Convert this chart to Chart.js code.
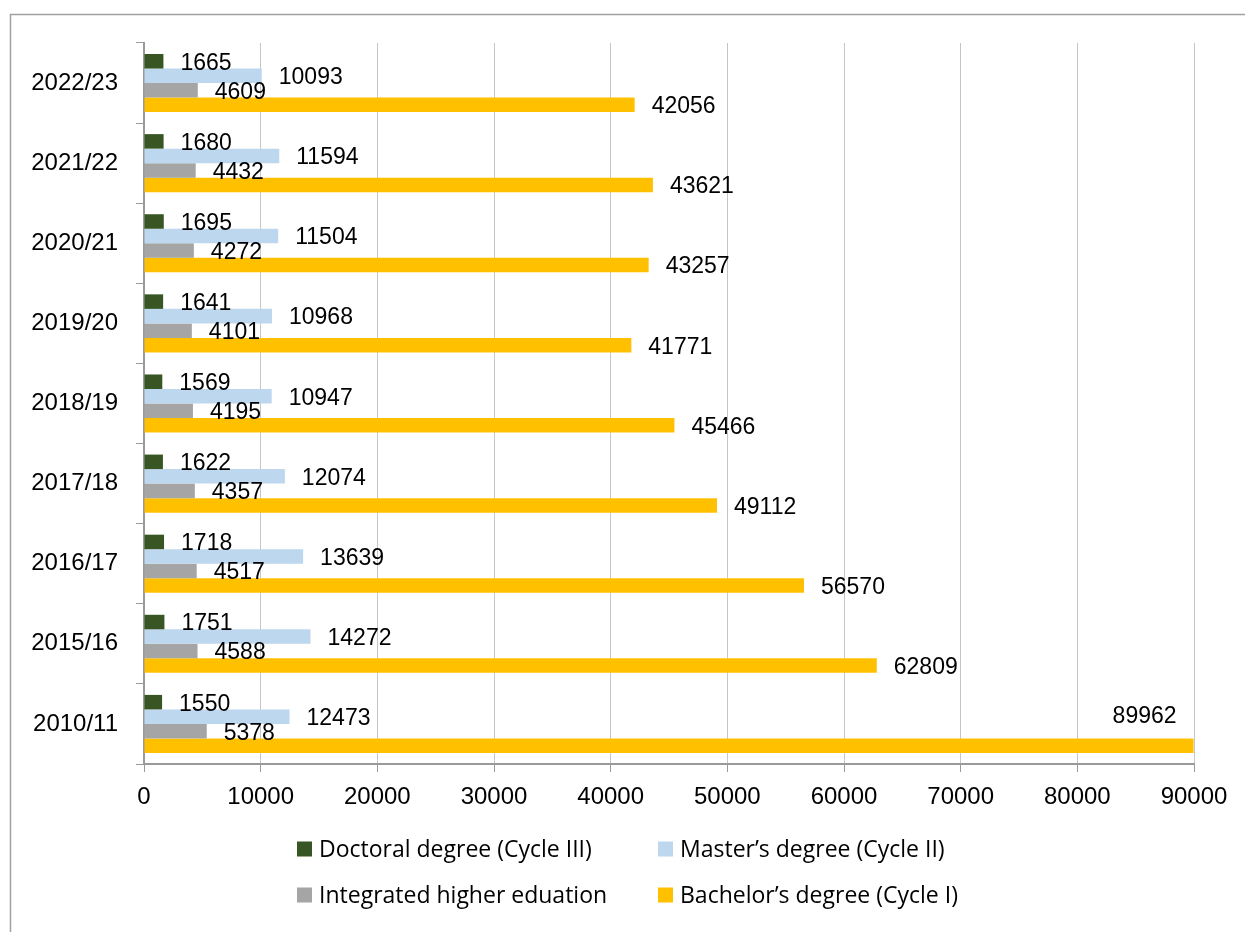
<!DOCTYPE html>
<html>
<head>
<meta charset="utf-8">
<script src="https://cdn.jsdelivr.net/npm/chart.js@4.4.1/dist/chart.umd.min.js"></script>
<style>
  html, body { margin: 0; padding: 0; background: #fff; overflow: hidden; }
  #wrap { position: relative; width: 1245px; height: 932px; }
</style>
</head>
<body>
<div id="wrap"><canvas id="chart"></canvas></div>
<script>
// ── Data (top row of the chart first) ─────────────────────────
const years = ['2022/23', '2021/22', '2020/21', '2019/20', '2018/19',
               '2017/18', '2016/17', '2015/16', '2010/11'];

const doctoral   = [1665, 1680, 1695, 1641, 1569, 1622, 1718, 1751, 1550];
const master     = [10093, 11594, 11504, 10968, 10947, 12074, 13639, 14272, 12473];
const integrated = [4609, 4432, 4272, 4101, 4195, 4357, 4517, 4588, 5378];
const bachelor   = [42056, 43621, 43257, 41771, 45466, 49112, 56570, 62809, 89962];

const seriesNames = [
  'Doctoral degree (Cycle III)',
  'Master\u2019s degree (Cycle II)',
  'Integrated higher eduation',
  'Bachelor\u2019s degree (Cycle I)',
];
const seriesColors = ['#375623', '#BDD7EE', '#A5A5A5', '#FFC000'];

const xTicks = [0, 10000, 20000, 30000, 40000, 50000, 60000, 70000, 80000, 90000];

const AXIS_FONT = "'Liberation Sans', Arial, sans-serif";
const LEGEND_FONT = "'Open Sans', 'Noto Sans', sans-serif";

// ── Plugins ───────────────────────────────────────────────────

// outer frame of the chart object (only top and left edges are visible)
const framePlugin = {
  id: 'frame',
  beforeDraw(chart) {
    const c = chart.ctx;
    c.save();
    c.strokeStyle = '#a0a0a0';
    c.lineWidth = 1.5;
    c.beginPath();
    c.moveTo(10.5, chart.height + 5);
    c.lineTo(10.5, 14.5);
    c.lineTo(chart.width + 5, 14.5);
    c.stroke();
    c.restore();
  },
};

// value labels at the end of each bar
const valueLabels = {
  id: 'valueLabels',
  afterDatasetsDraw(chart) {
    const c = chart.ctx;
    const right = chart.chartArea.right;
    c.save();
    c.font = `23px ${AXIS_FONT}`;
    c.fillStyle = '#000';
    c.textBaseline = 'middle';
    chart.data.datasets.forEach((ds, di) => {
      chart.getDatasetMeta(di).data.forEach((bar, i) => {
        const txt = String(ds.data[i]);
        const w = c.measureText(txt).width;
        if (bar.x + 17 + w > right) {
          // no room outside: put it inside, lifted above the bar
          c.textAlign = 'right';
          c.fillText(txt, bar.x - 17, bar.y - 2 * bar.height);
        } else {
          c.textAlign = 'left';
          c.fillText(txt, bar.x + 17, bar.y + 2);
        }
      });
    });
    c.restore();
  },
};

// 2 x 2 legend under the axis
const gridLegend = {
  id: 'gridLegend',
  afterDraw(chart) {
    const c = chart.ctx;
    const cols = [297, 658];
    const rows = [849, 895];
    c.save();
    c.font = `23px ${LEGEND_FONT}`;
    c.textBaseline = 'middle';
    c.textAlign = 'left';
    chart.data.datasets.forEach((ds, i) => {
      const x = cols[i % 2];
      const y = rows[Math.floor(i / 2)];
      c.fillStyle = ds.backgroundColor;
      c.fillRect(x, y - 7.5, 15, 15);
      c.fillStyle = '#000';
      c.fillText(ds.label, x + 22, y + 1);
    });
    c.restore();
  },
};

// ── Chart ─────────────────────────────────────────────────────
const seriesData = [doctoral, master, integrated, bachelor];

new Chart(document.getElementById('chart'), {
  type: 'bar',
  data: {
    labels: years,
    datasets: seriesData.map((d, i) => ({
      label: seriesNames[i],
      data: d,
      backgroundColor: seriesColors[i],
      borderWidth: 0,
      categoryPercentage: 0.725,
      barPercentage: 1.0,
    })),
  },
  options: {
    indexAxis: 'y',
    responsive: true,
    maintainAspectRatio: false,
    animation: false,
    layout: { padding: { top: 43, right: 51, bottom: 108, left: 0 } },
    plugins: {
      legend: { display: false },
      tooltip: { enabled: false },
    },
    scales: {
      x: {
        min: 0,
        max: 90000,
        afterBuildTicks(scale) {
          scale.ticks = xTicks.map((v) => ({ value: v }));
        },
        afterFit(scale) { scale.height = 60; },
        ticks: {
          color: '#000',
          font: { family: AXIS_FONT, size: 24 },
          padding: 11,
          maxRotation: 0,
          callback: (v) => String(v),
        },
        grid: {
          color: '#c6c6c6',
          tickColor: '#9a9a9a',
          tickLength: 8,
          lineWidth: 1,
        },
        border: { color: '#9a9a9a', width: 2 },
      },
      y: {
        afterFit(scale) { scale.width = 144; },
        ticks: {
          color: '#000',
          font: { family: AXIS_FONT, size: 24 },
          padding: 18,
        },
        grid: {
          drawOnChartArea: false,
          tickColor: '#9a9a9a',
          tickLength: 8,
          offset: true,
        },
        border: { color: '#9a9a9a', width: 2 },
      },
    },
  },
  plugins: [framePlugin, valueLabels, gridLegend],
});
</script>
</body>
</html>
